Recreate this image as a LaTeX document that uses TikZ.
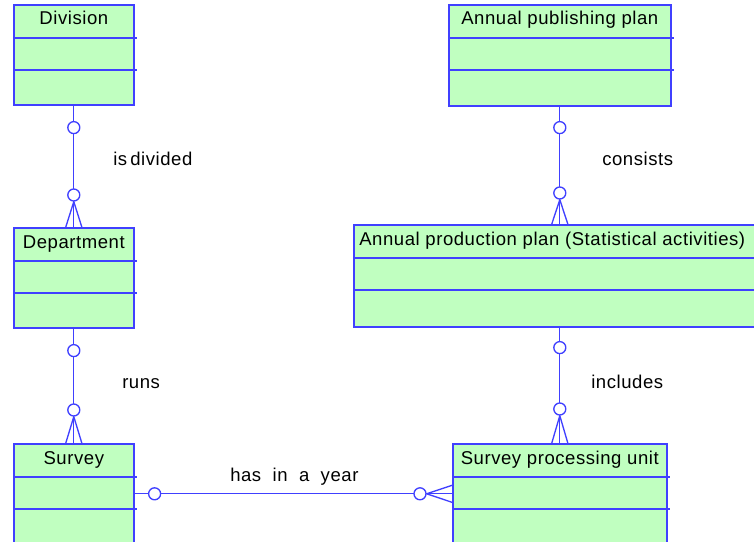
\documentclass[tikz,border=0pt]{standalone}
\usepackage{fontspec}
\setmainfont{Liberation Sans}[LetterSpace=3]
\usetikzlibrary{calc}
\definecolor{entfill}{RGB}{192,255,192}
\definecolor{entline}{RGB}{64,64,255}
\newcommand\erbox[6]{%
  \node[entity, minimum width=#4*0.75pt, minimum height=#5*0.75pt] (#1) at (#2,#3) {};
  \draw[divline] ($(#1.north west)+(0,34)$) -- ($(#1.north east)+(2,34)$);
  \draw[divline] ($(#1.north west)+(0,66)$) -- ($(#1.north east)+(2,66)$);
  \node[titletext] (#1t) at ($(#1.north)+(0,21)$) {#6};
}
\begin{document}
\begin{tikzpicture}[x=0.75pt,y=-0.75pt,
  entity/.style={draw=entline, line width=1.2pt, fill=entfill, anchor=north west, inner sep=0pt},
  divline/.style={draw=entline, line width=1pt},
  titletext/.style={anchor=base, inner sep=0pt, font=\fontsize{13.9pt}{17pt}\selectfont},
  lbl/.style={anchor=base west, inner sep=0pt, font=\fontsize{13.9pt}{17pt}\selectfont},
  rel/.style={draw=entline, line width=1pt},
  circ/.style={circle, draw=entline, line width=1pt, fill=white, minimum size=9pt, inner sep=0pt}]
\useasboundingbox (0,0) rectangle (754,542);

\erbox{div}{13}{4}{120}{100}{Division}
\erbox{dep}{13}{227}{120}{100}{Department}
\erbox{sur}{13}{443}{120}{100}{Survey}
\erbox{pub}{448}{4}{222}{101}{Annual publishing plan}
\erbox{prod}{353}{224}{412}{102}{}
\node[titletext, anchor=base west] (prodt) at ($(prod.north west)+(6,21)$) {Annual production plan (Statistical activities)};
\erbox{spu}{452}{443}{214}{100}{Survey processing unit}

% Division - Department
\draw[rel] (div.south) -- (dep.north);
\node[circ] (c1a) at ($(div.south)+(0,22)$) {};
\node[circ] (c1b) at ($(dep.north)+(0,-32)$) {};
\draw[rel] (c1b.south) -- ($(dep.north)+(-8,0)$);
\draw[rel] (c1b.south) -- ($(dep.north)+(8,0)$);
\node[lbl] (l1) at (113,166) {is\,divided};

% Department - Survey
\draw[rel] (dep.south) -- (sur.north);
\node[circ] (c2a) at ($(dep.south)+(0,22)$) {};
\node[circ] (c2b) at ($(sur.north)+(0,-33)$) {};
\draw[rel] (c2b.south) -- ($(sur.north)+(-8,0)$);
\draw[rel] (c2b.south) -- ($(sur.north)+(8,0)$);
\node[lbl] (l2) at (122,388) {runs};

% Publishing - Production
\draw[rel] (pub.south) -- (pub.south |- prod.north);
\node[circ] (c3a) at ($(pub.south)+(0,21)$) {};
\node[circ] (c3b) at ($(pub.south |- prod.north)+(0,-31)$) {};
\draw[rel] (c3b.south) -- ($(pub.south |- prod.north)+(-8,0)$);
\draw[rel] (c3b.south) -- ($(pub.south |- prod.north)+(8,0)$);
\node[lbl] (l3) at (602,166) {consists};

% Production - Survey processing unit
\draw[rel] (spu.north |- prod.south) -- (spu.north);
\node[circ] (c4a) at ($(spu.north |- prod.south)+(0,20)$) {};
\node[circ] (c4b) at ($(spu.north)+(0,-34)$) {};
\draw[rel] (c4b.south) -- ($(spu.north)+(-8,0)$);
\draw[rel] (c4b.south) -- ($(spu.north)+(8,0)$);
\node[lbl] (l4) at (591,388) {includes};

% Survey - Survey processing unit
\draw[rel] (sur.east) -- (spu.west);
\node[circ] (c5a) at ($(sur.east)+(20,0)$) {};
\node[circ] (c5b) at ($(spu.west)+(-32,0)$) {};
\draw[rel] (c5b.east) -- ($(spu.west)+(0,-8.5)$);
\draw[rel] (c5b.east) -- ($(spu.west)+(0,8.5)$);
\node[lbl] (l5) at (230,481) {has\ \ in\ \ a\ \ year};
\end{tikzpicture}
\end{document}
